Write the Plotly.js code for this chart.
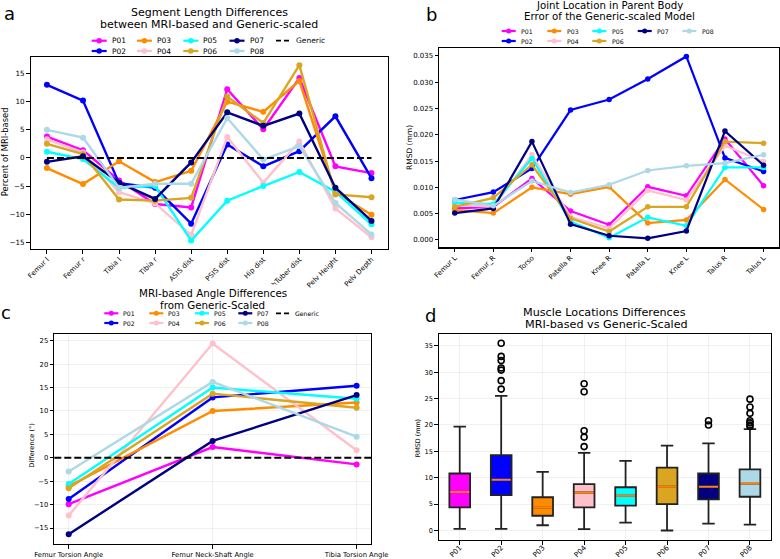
<!DOCTYPE html>
<html>
<head>
<meta charset="utf-8">
<script src="https://cdn.plot.ly/plotly-3.0.1.min.js"></script>
<style>
  html, body { margin: 0; padding: 0; background: #fff; }
  #fig { width: 780px; height: 559px; }
</style>
</head>
<body>
<div id="fig"></div>
<script>
// ---------- participants ----------
const participants = ['P01', 'P02', 'P03', 'P04', 'P05', 'P06', 'P07', 'P08'];
const participantColors = ['#ff00ff', '#0000ff', '#ff8c00', '#ffc0cb', '#00ffff', '#daa520', '#000080', '#add8e6'];

// ---------- (a) segment length differences, % of MRI-based ----------
const segmentLabels = ['Femur l', 'Femur r', 'Tibia l', 'Tibia r', 'ASIS dist', 'PSIS dist', 'Hip dist', 'IschTuber dist', 'Pelv Height', 'Pelv Depth'];
const segP01 = [3.8, 1.35, -4.0, -8.2, -8.8, 12.2, 5.1, 14.2, -1.5, -2.7];
const segP02 = [13.0, 10.2, -4.5, -5.3, -11.7, 2.4, -1.5, 1.2, 7.4, -3.6];
const segP03 = [-1.8, -4.65, -0.6, -4.3, -2.3, 10.0, 8.2, 13.7, -6.2, -10.1];
const segP04 = [3.3, 1.0, -6.1, -8.1, -13.7, 3.7, -4.4, 2.9, -9.0, -14.1];
const segP05 = [1.1, -0.2, -5.3, -5.0, -14.7, -7.6, -5.0, -2.5, -6.0, -11.8];
const segP06 = [2.5, 0.7, -7.4, -7.6, -7.1, 10.9, 6.2, 16.5, -6.5, -7.0];
const segP07 = [-0.7, 0.3, -4.4, -7.3, -0.8, 8.1, 5.7, 7.9, -5.3, -11.2];
const segP08 = [5.0, 3.6, -5.3, -4.6, -4.6, 7.1, -0.3, 2.1, -8.0, -13.6];
const segGeneric = [0, 0, 0, 0, 0, 0, 0, 0, 0, 0];

// ---------- (b) joint location RMSD (mm) ----------
const jointLabels = ['Femur L', 'Femur_R', 'Torso', 'Patella R', 'Knee R', 'Patella L', 'Knee L', 'Talus R', 'Talus L'];
const jointP01 = [0.0060, 0.0063, 0.0117, 0.0055, 0.0029, 0.0101, 0.0084, 0.0192, 0.0103];
const jointP02 = [0.0076, 0.0091, 0.0136, 0.0247, 0.0267, 0.0306, 0.0349, 0.0156, 0.0130];
const jointP03 = [0.0057, 0.0051, 0.0100, 0.0087, 0.0101, 0.0032, 0.0038, 0.0115, 0.0058];
const jointP04 = [0.0067, 0.0063, 0.0162, 0.0044, 0.0022, 0.0094, 0.0076, 0.0179, 0.0149];
const jointP05 = [0.0071, 0.0068, 0.0155, 0.0035, 0.0004, 0.0043, 0.0027, 0.0138, 0.0138];
const jointP06 = [0.0063, 0.0080, 0.0143, 0.0041, 0.0016, 0.0063, 0.0063, 0.0187, 0.0184];
const jointP07 = [0.0051, 0.0060, 0.0187, 0.0030, 0.0008, 0.0003, 0.0017, 0.0207, 0.0142];
const jointP08 = [0.0077, 0.0065, 0.0112, 0.0090, 0.0105, 0.0132, 0.0141, 0.0146, 0.0162];

// ---------- (c) angle differences (deg) ----------
const angleLabels = ['Femur Torsion Angle', 'Femur Neck-Shaft Angle', 'Tibia Torsion Angle'];
const angP01 = [-9.9, 2.3, -1.4];
const angP02 = [-8.8, 12.9, 15.4];
const angP03 = [-6.1, 10.0, 11.8];
const angP04 = [-12.3, 24.4, 1.6];
const angP05 = [-5.6, 15.0, 12.6];
const angP06 = [-6.5, 13.7, 10.7];
const angP07 = [-16.3, 3.6, 13.4];
const angP08 = [-2.9, 16.2, 4.5];

// ---------- (d) muscle location RMSD (mm), box statistics ----------
const boxLowerWhisker = [0.3, 0.3, 1.0, 0.25, 1.5, 0.0, 1.3, 1.1];
const boxQ1 = [4.4, 6.7, 2.8, 4.4, 4.7, 5.0, 5.9, 6.4];
const boxMedian = [7.3, 9.6, 4.4, 7.2, 6.6, 8.3, 8.3, 8.9];
const boxQ3 = [10.8, 14.3, 6.3, 8.8, 8.2, 11.9, 10.8, 11.6];
const boxUpperWhisker = [19.7, 25.5, 11.1, 14.7, 13.2, 16.1, 16.5, 19.2];
const outP01 = [];
const outP02 = [26.8, 28.4, 30.4, 30.8, 32.2, 33.0, 35.5];
const outP03 = [];
const outP04 = [15.9, 17.7, 18.9, 26.3, 27.8];
const outP05 = [];
const outP06 = [];
const outP07 = [20.0, 20.8];
const outP08 = [19.7, 20.0, 20.4, 20.8, 22.2, 23.4, 24.9];

// ---------- helpers ----------
const W = 780, H = 559;
const fx = x => x / W;
const fy = y => 1 - y / H;
const FONT = 'DejaVu Sans, Verdana, sans-serif';

const segSeries = [segP01, segP02, segP03, segP04, segP05, segP06, segP07, segP08];
const jointSeries = [jointP01, jointP02, jointP03, jointP04, jointP05, jointP06, jointP07, jointP08];
const angSeries = [angP01, angP02, angP03, angP04, angP05, angP06, angP07, angP08];
const outSeries = [outP01, outP02, outP03, outP04, outP05, outP06, outP07, outP08];

const traces = [];

function lineTraces(xLabels, series, xa, ya, lw, ms) {
  series.forEach((vals, i) => {
    traces.push({
      type: 'scatter', mode: 'lines+markers',
      x: xLabels, y: vals, name: participants[i],
      xaxis: xa, yaxis: ya, showlegend: false, hoverinfo: 'x+y+name',
      line: { color: participantColors[i], width: lw },
      marker: { color: participantColors[i], size: ms }
    });
  });
}

lineTraces(segmentLabels, segSeries, 'x', 'y', 2.4, 6);
traces.push({
  type: 'scatter', mode: 'lines', x: segmentLabels, y: segGeneric, name: 'Generic',
  xaxis: 'x', yaxis: 'y', showlegend: false,
  line: { color: '#000', width: 2, dash: '7px,3px' }
});
lineTraces(jointLabels, jointSeries, 'x2', 'y2', 2.2, 5.5);
lineTraces(angleLabels, angSeries, 'x3', 'y3', 2.4, 6);

// boxes, one per participant
const boxHalf = 0.25;
participants.forEach((p, i) => {
  traces.push({
    type: 'box', x: [i], name: p, xaxis: 'x4', yaxis: 'y4', showlegend: false,
    q1: [boxQ1[i]], median: [boxMedian[i]], q3: [boxQ3[i]],
    lowerfence: [boxLowerWhisker[i]], upperfence: [boxUpperWhisker[i]],
    width: 2 * boxHalf, whiskerwidth: 0.6, boxpoints: false,
    fillcolor: participantColors[i], line: { color: '#222', width: 1.8 }
  });
});
// median bars in orange
const medX = [], medY = [];
boxMedian.forEach((m, i) => { medX.push(i - boxHalf + 0.02, i + boxHalf - 0.02, null); medY.push(m, m, null); });
traces.push({
  type: 'scatter', mode: 'lines', x: medX, y: medY, xaxis: 'x4', yaxis: 'y4',
  showlegend: false, hoverinfo: 'skip', line: { color: '#ff7f0e', width: 2 }
});
// fliers
const flX = [], flY = [];
outSeries.forEach((arr, i) => arr.forEach(v => { flX.push(i); flY.push(v); }));
traces.push({
  type: 'scatter', mode: 'markers', x: flX, y: flY, xaxis: 'x4', yaxis: 'y4',
  showlegend: false, marker: { symbol: 'circle-open', size: 6, color: '#000', line: { width: 1.6, color: '#000' } }
});

// ---------- axes ----------
function ax(extra, tickSize) {
  return Object.assign({
    showline: true, mirror: true, linecolor: '#000', linewidth: 1.2,
    ticks: 'outside', ticklen: 3.5, tickwidth: 1, tickcolor: '#000',
    showgrid: false, zeroline: false, fixedrange: true, automargin: false,
    tickfont: { family: FONT, size: tickSize, color: '#000' }
  }, extra);
}
const gridColor = 'rgba(0,0,0,0.07)';

const layout = {
  width: W, height: H,
  margin: { l: 0, r: 0, t: 0, b: 0 },
  paper_bgcolor: '#fff', plot_bgcolor: '#fff',
  font: { family: FONT, color: '#000' },
  showlegend: false,
  xaxis: ax({ domain: [fx(30.7), fx(387.7)], anchor: 'y', type: 'category', range: [-0.45, 9.45], tickangle: -45, ticklabelstandoff: -1 }, 7.0),
  yaxis: ax({ domain: [fy(249), fy(56.7)], anchor: 'x', range: [-16.2, 18.0], tickvals: [-15, -10, -5, 0, 5, 10, 15] }, 7.2),
  xaxis2: ax({ domain: [fx(439.3), fx(779)], anchor: 'y2', type: 'category', range: [-0.4, 8.4], tickangle: -45, ticklabelstandoff: -1 }, 7.0),
  yaxis2: ax({ domain: [fy(247.3), fy(47.7)], anchor: 'x2', range: [-0.0014, 0.03656], tick0: 0, dtick: 0.005, tickformat: '.3f' }, 7),
  xaxis3: ax({ domain: [fx(54.3), fx(371)], anchor: 'y3', type: 'category', range: [-0.1, 2.1], tickangle: 0, showgrid: true, gridcolor: gridColor, gridwidth: 0.8 }, 6.8),
  yaxis3: ax({ domain: [fy(544), fy(333.7)], anchor: 'x3', range: [-18.4, 26.5], tick0: 0, dtick: 5, showgrid: true, gridcolor: gridColor, gridwidth: 0.8 }, 6.8),
  xaxis4: ax({ domain: [fx(439), fx(770.7)], anchor: 'y4', range: [-0.5, 7.5], tickvals: participants.map((p, i) => i), ticktext: participants, tickangle: -45, ticklabelstandoff: -4, showgrid: true, gridcolor: gridColor, gridwidth: 0.8 }, 7.2),
  yaxis4: ax({ domain: [fy(540), fy(333.7)], anchor: 'x4', range: [-1.8, 37.3], tick0: 0, dtick: 5, showgrid: true, gridcolor: gridColor, gridwidth: 0.8 }, 6.6),
  shapes: [],
  annotations: []
};

// zero reference line across panel c
layout.shapes.push({
  type: 'line', xref: 'x3 domain', yref: 'y3', x0: 0, x1: 1, y0: 0, y1: 0, layer: 'above',
  line: { color: '#000', width: 2, dash: '7px,3px' }
});

// panel c's header sits over the tail of the longest segment label of panel a
layout.shapes.push({
  type: 'rect', xref: 'paper', yref: 'paper', x0: fx(236), x1: fx(290), y0: fy(297), y1: fy(284.5),
  fillcolor: '#fff', line: { width: 0 }, layer: 'above'
});

function text(t, x, y, size, opts) {
  layout.annotations.push(Object.assign({
    text: t, xref: 'paper', yref: 'paper', x: fx(x), y: fy(y), showarrow: false,
    xanchor: 'center', yanchor: 'middle', font: { family: FONT, size: size, color: '#000' }
  }, opts || {}));
}

// titles
text('Segment Length Differences', 209, 12.7, 11);
text('between MRI-based and Generic-scaled', 209, 24.3, 11);
text('Joint Location in Parent Body', 609, 5.3, 10.2);
text('Error of the Generic-scaled Model', 609, 16.9, 10.2);
text('MRI-based Angle Differences', 212.7, 293.3, 10.3);
text('from Generic-Scaled', 212.7, 305, 10.3);
text('Muscle Locations Differences', 604, 312.2, 11.2);
text('MRI-based vs Generic-Scaled', 606, 324.6, 11.2);

// panel letters
text('a', 2, 13.5, 18, { xanchor: 'left' });
text('b', 424.5, 15, 18, { xanchor: 'left' });
text('c', -1, 312, 18, { xanchor: 'left' });
text('d', 423.5, 315, 18, { xanchor: 'left' });

// y-axis titles
text('Percent of MRI-based', 4.5, 151.7, 8.4, { textangle: -90 });
text('RMSD (mm)', 409.5, 147.5, 7.5, { textangle: -90 });
text('Difference (°)', 31.7, 445, 6.6, { textangle: -90 });
text('RMSD (mm)', 418.3, 438, 6.4, { textangle: -90 });

// legends, filled column by column like a 5-column grid
function legend(items, colX, rowY, handleLen, textOff, size, ms) {
  const ncol = colX.length;
  const base = Math.floor(items.length / ncol), large = items.length % ncol;
  let k = 0;
  for (let c = 0; c < ncol; c++) {
    const rows = c < large ? base + 1 : base;
    for (let r = 0; r < rows; r++, k++) {
      const it = items[k];
      const x0 = colX[c], y = rowY[r];
      layout.shapes.push({
        type: 'line', xref: 'paper', yref: 'paper', x0: fx(x0), x1: fx(x0 + handleLen), y0: fy(y), y1: fy(y),
        line: { color: it.color, width: it.dash ? 1.8 : 2.2, dash: it.dash || 'solid' }
      });
      if (!it.dash) {
        layout.shapes.push({
          type: 'circle', xref: 'paper', yref: 'paper', xsizemode: 'pixel', ysizemode: 'pixel',
          xanchor: fx(x0 + handleLen / 2), yanchor: fy(y), x0: -ms / 2, x1: ms / 2, y0: -ms / 2, y1: ms / 2,
          fillcolor: it.color, line: { color: it.color, width: 0 }
        });
      }
      text(it.name, x0 + textOff, y, size, { xanchor: 'left' });
    }
  }
}
const pItems = participants.map((p, i) => ({ name: p, color: participantColors[i] }));
const genericItem = { name: 'Generic', color: '#000', dash: '5px,3px' };

legend(pItems.concat([genericItem]), [91.7, 136.9, 183.3, 229.5, 276], [40.7, 51], 15, 18, 7.5, 5.5);
legend(pItems, [501.7, 547.3, 592.3, 637.7, 682.3], [31, 41], 14, 17.5, 6.2, 5);
legend(pItems.concat([genericItem]), [104.3, 149.3, 195, 238.3, 276], [313.3, 323], 14, 17, 6.2, 5);

Plotly.newPlot('fig', traces, layout, { staticPlot: true, displayModeBar: false });
</script>
</body>
</html>
